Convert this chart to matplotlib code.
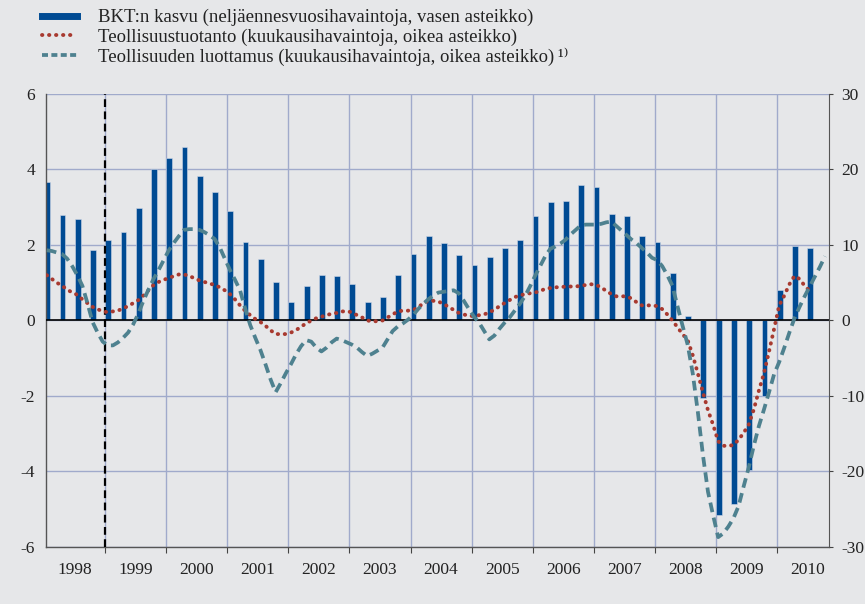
import matplotlib
matplotlib.use("Agg")
import matplotlib.pyplot as plt
from matplotlib.lines import Line2D
import numpy as np

plt.rcParams['font.family'] = ['Liberation Serif', 'DejaVu Serif']
plt.rcParams['axes.unicode_minus'] = False

# BKT:n kasvu, quarterly, 1998Q1 - 2010Q3 (left scale)
gdp = [3.67, 2.80, 2.69, 1.87,
       2.12, 2.34, 2.99, 4.00,
       4.31, 4.59, 3.84, 3.40,
       2.91, 2.07, 1.64, 1.03,
       0.49, 0.92, 1.21, 1.19,
       0.96, 0.48, 0.63, 1.20,
       1.75, 2.24, 2.06, 1.74,
       1.47, 1.68, 1.91, 2.12,
       2.77, 3.15, 3.17, 3.58,
       3.54, 2.82, 2.78, 2.24,
       2.09, 1.26, 0.12, -2.05,
       -5.14, -4.85, -3.95, -1.99,
       0.81, 1.96, 1.92]

# Teollisuustuotanto, monthly from 1998/01 (right scale)
production = [6.0, 5.5, 5.0, 4.6, 4.1, 3.7, 3.4, 2.8, 2.3, 1.8, 1.5, 1.2,
              1.1, 1.2, 1.3, 1.6, 1.9, 2.3, 2.7, 3.3, 4.0, 4.7, 5.1, 5.4,
              5.6, 5.9, 6.1, 6.1, 5.9, 5.6, 5.3, 5.1, 4.9, 4.7, 4.4, 4.0,
              3.5, 2.8, 2.0, 1.3, 0.7, 0.2, -0.2, -0.7, -1.3, -1.8, -1.8, -1.8,
              -1.6, -1.3, -0.8, -0.4, 0.0, 0.3, 0.5, 0.7, 0.9, 1.0, 1.2, 1.2,
              1.1, 0.7, 0.4, 0.0, -0.1, -0.1, 0.0, 0.4, 0.8, 1.2, 1.3, 1.3,
              1.4, 1.7, 2.3, 2.6, 2.6, 2.5, 2.2, 1.8, 1.4, 1.0, 0.8, 0.6,
              0.6, 0.7, 0.8, 1.1, 1.4, 1.9, 2.3, 2.7, 3.1, 3.3, 3.5, 3.6,
              3.7, 3.9, 4.2, 4.3, 4.4, 4.4, 4.5, 4.5, 4.5, 4.6, 4.7, 4.8,
              4.7, 4.4, 3.9, 3.5, 3.2, 3.2, 3.2, 2.9, 2.4, 2.0, 2.0, 2.0,
              1.9, 1.5, 0.8, 0.0, -0.9, -1.8, -2.6, -4.6, -7.0, -9.5, -11.9, -13.8,
              -16.0, -16.6, -16.6, -16.5, -15.8, -14.9, -13.8, -11.8, -9.3, -7.0, -4.1, -1.1,
              2.0, 3.3, 4.8, 5.9, 5.5, 4.6, 3.9]

# Teollisuuden luottamus, monthly from 1998/01 (right scale)
confidence = [9.3, 9.2, 9.0, 8.8, 8.2, 7.2, 6.0, 4.6, 2.3, -0.2, -1.6, -2.8,
              -3.3, -3.3, -2.9, -2.3, -1.6, -0.5, 0.9, 2.6, 4.1, 5.5, 6.7, 8.0,
              9.3, 10.3, 11.2, 12.0, 12.1, 12.1, 12.0, 11.7, 11.3, 10.8, 9.7, 8.2,
              6.7, 5.4, 4.0, 1.6, -0.6, -2.3, -3.9, -5.8, -7.8, -9.5, -8.3, -7.0,
              -5.8, -4.5, -3.4, -2.6, -2.8, -3.6, -4.1, -3.6, -2.9, -2.4, -2.6, -2.9,
              -3.2, -3.6, -4.2, -4.7, -4.4, -4.0, -3.6, -2.5, -1.4, -0.8, -0.4, 0.1,
              0.7, 1.5, 2.2, 2.8, 3.3, 3.7, 3.8, 3.9, 4.0, 3.6, 2.6, 1.5,
              0.5, -0.3, -1.4, -2.5, -2.0, -1.1, -0.3, 0.4, 1.3, 2.2, 3.2, 4.5,
              5.9, 7.2, 8.5, 9.5, 9.8, 10.2, 10.7, 11.4, 12.0, 12.6, 12.7, 12.7,
              12.7, 12.8, 13.0, 13.1, 12.5, 11.9, 11.3, 10.7, 10.2, 9.6, 9.0, 8.3,
              8.0, 7.2, 6.0, 4.6, 1.9, -0.7, -3.2, -7.0, -12.1, -17.8, -22.7, -25.8,
              -28.7, -28.2, -27.3, -26.2, -24.6, -22.0, -19.5, -16.6, -14.0, -11.8, -9.5, -7.1,
              -5.5, -3.6, -1.6, 0.3, 1.8, 3.2, 4.5, 5.8, 7.1, 8.5]

years = list(range(1998, 2011))
left_ticks = [-6, -4, -2, 0, 2, 4, 6]
right_ticks = [-30, -20, -10, 0, 10, 20, 30]

labels = ['BKT:n kasvu (neljäennesvuosihavaintoja, vasen asteikko)',
          'Teollisuustuotanto (kuukausihavaintoja, oikea asteikko)',
          'Teollisuuden luottamus (kuukausihavaintoja, oikea asteikko)\u2009\u00b9\u207e']

bg = '#e6e7e9'
blue = '#004b93'
red = '#a83a30'
teal = '#4e818f'
gridc = '#a0aacb'

q_x = 1998 + np.arange(len(gdp)) / 4
m_prod = 1998 + np.arange(len(production)) / 12 + 0.04
m_conf = 1998 + np.arange(len(confidence)) / 12 + 0.04

fig = plt.figure(figsize=(8.65, 6.04), dpi=100, facecolor=bg)
ax = fig.add_axes([0.0532, 0.0944, 0.9052, 0.75])
ax.set_facecolor(bg)

ax.bar(q_x, gdp, width=0.095, align='edge', color=blue, edgecolor='#d0d8e8',
       linewidth=0.4, zorder=2)
ax.axhline(0, color='black', lw=1.2, zorder=3)
ax.axvline(1999, color='black', lw=1.6, ls=(0, (3.5, 2)), zorder=4)

ax.set_xlim(1998.028, 2010.856)
ax.set_ylim(-6, 6)
ax.set_yticks(left_ticks)
ax.set_yticklabels([str(v) for v in left_ticks])
ax.set_xticks(years[1:])
ax.set_xticklabels([])
ax.set_xticks([y + 0.5 for y in years], minor=True)
ax.set_xticklabels([str(y) for y in years], minor=True)
ax.tick_params(axis='x', which='major', length=4, color='#444444', direction='out')
ax.tick_params(axis='x', which='minor', length=0, pad=10.5, labelsize=12.5, colors='#222222')
ax.tick_params(axis='y', length=0, pad=8, labelsize=12.5, colors='#222222')
ax.grid(True, which='major', color=gridc, lw=1.0, zorder=0)
ax.set_axisbelow(True)
for s in ['top', 'right']:
    ax.spines[s].set_visible(False)
for s in ['left', 'bottom']:
    ax.spines[s].set_color('#555555')
    ax.spines[s].set_linewidth(1.0)

ax2 = ax.twinx()
ax2.set_ylim(-30, 30)
ax2.set_yticks(right_ticks)
ax2.set_yticklabels([str(v) for v in right_ticks])
ax2.tick_params(axis='y', length=3, color='#444444', pad=6, labelsize=12.5, colors='#222222')
for s in ['top', 'left', 'bottom']:
    ax2.spines[s].set_visible(False)
ax2.spines['right'].set_color('#555555')

ax2.plot(m_prod, production, color=red, lw=2.8, ls=(0, (0.1, 1.7)),
         dash_capstyle='round', zorder=5)
ax2.plot(m_conf, confidence, color=teal, lw=2.7, ls=(0, (2.6, 1.5)), zorder=6)

# legend handles: the dashed one uses shorter dashes, as in the original key
handles = [Line2D([], [], color=blue, lw=5),
           Line2D([], [], color=red, lw=2.8, ls=(0, (0.1, 1.7)), dash_capstyle='round'),
           Line2D([], [], color=teal, lw=2.7, ls=(0, (1.6, 0.9)))]
fig.legend(handles, labels, loc='upper left', bbox_to_anchor=(42 / 865, 1 - 9 / 604),
           frameon=False, fontsize=13.5, handlelength=1.87, handletextpad=1.1,
           labelspacing=0.1, borderpad=0, borderaxespad=0, labelcolor='#222222')

fig.savefig('out.png', dpi=100, facecolor=bg)
